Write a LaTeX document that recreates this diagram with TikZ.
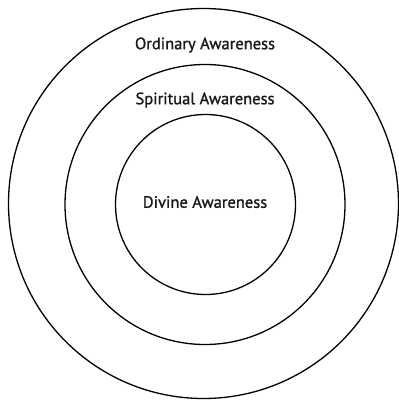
\documentclass[tikz,border=0pt]{standalone}
\usepackage{fontspec}
\setmainfont{PT Sans}[FakeBold=1.2]
\tikzset{
  ring/.style={draw=black, line width=1.3pt},
  ringlabel/.style={font=\fontsize{16.5}{18}\selectfont, text=black!90, inner sep=0pt}
}

\begin{document}
\begin{tikzpicture}[x=1pt, y=-1pt]
  \useasboundingbox (0,0) rectangle (399,400);

  \draw[ring] (203.5,203.5) circle (195);
  \draw[ring] (205,204.5) circle (140);
  \draw[ring] (205.5,204.5) circle (90);

  \node[ringlabel] (ordinary) at (205,45) {Ordinary Awareness};
  \node[ringlabel] (spiritual) at (205,100) {Spiritual Awareness};
  \node[ringlabel] (divine) at (205,202) {Divine Awareness};
\end{tikzpicture}
\end{document}
